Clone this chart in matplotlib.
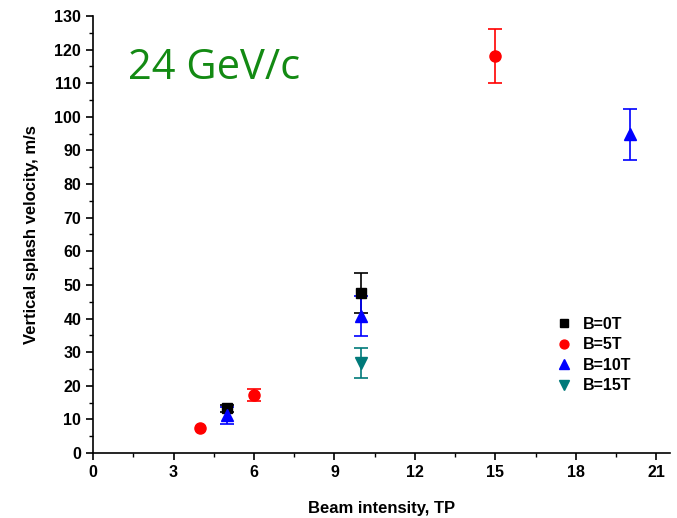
import matplotlib
matplotlib.use("Agg")
import matplotlib.pyplot as plt
from matplotlib.ticker import MultipleLocator

plt.rcParams['font.family'] = ['Liberation Sans', 'DejaVu Sans']

# Splash velocity measurements per magnetic field (nan = no error bar)
b0_x = [5, 10]
b0_y = [13.3, 47.5]
b0_err = [1.0, 6.0]

b5_x = [4, 6, 15]
b5_y = [7.5, 17.2, 118.0]
b5_err = [float('nan'), 1.8, 8.0]

b10_x = [5, 10, 20]
b10_y = [11.2, 40.8, 94.8]
b10_err = [2.5, 6.0, 7.5]

b15_x = [10]
b15_y = [26.7]
b15_err = [4.5]

series = [
    ("B=0T", b0_x, b0_y, b0_err, "black", "s", 7),
    ("B=5T", b5_x, b5_y, b5_err, "red", "o", 8),
    ("B=10T", b10_x, b10_y, b10_err, "blue", "^", 9),
    ("B=15T", b15_x, b15_y, b15_err, "#007a7a", "v", 9),
]

fig = plt.figure(figsize=(6.77, 5.18), dpi=100)
ax = fig.add_axes([0.1374, 0.1255, 0.852, 0.8436])

handles = []
for label, x, y, e, c, m, ms in series:
    h = ax.errorbar(x, y, yerr=e, fmt=m, color=c, ms=ms, capsize=5,
                    elinewidth=1.2, capthick=1.2, label=label, mec=c, mfc=c)
    handles.append(h)

ax.set_xlim(0, 21.5)
ax.set_ylim(0, 130)
ax.xaxis.set_major_locator(MultipleLocator(3))
ax.xaxis.set_minor_locator(MultipleLocator(1.5))
ax.yaxis.set_major_locator(MultipleLocator(10))
ax.yaxis.set_minor_locator(MultipleLocator(5))
ax.spines['top'].set_visible(False)
ax.spines['right'].set_visible(False)
for s in ('left', 'bottom'):
    ax.spines[s].set_linewidth(1.2)
ax.tick_params(which='major', direction='out', length=5, width=1.2,
               labelsize=11.5)
ax.tick_params(which='minor', direction='out', length=3, width=1.0)
for lbl in ax.get_xticklabels() + ax.get_yticklabels():
    lbl.set_fontweight('bold')

ax.set_xlabel("Beam intensity, TP", fontsize=12, fontweight='bold', labelpad=15)
ax.set_ylabel("Vertical splash velocity, m/s", fontsize=12, fontweight='bold',
              labelpad=11)

ax.text(0.06, 0.88, "24 GeV/c", transform=ax.transAxes, fontsize=30,
        color="#138a13", family=['Open Sans', 'DejaVu Sans'], va='center')

leg = ax.legend(handles=[h[0] for h in handles],
                labels=[s[0] for s in series], frameon=False,
                loc='upper left', bbox_to_anchor=(0.775, 0.345),
                prop={'weight': 'bold', 'size': 11.5}, handletextpad=0.6,
                labelspacing=0.35, markerscale=0.8, handlelength=1.2)

fig.savefig("out.png", dpi=100)
